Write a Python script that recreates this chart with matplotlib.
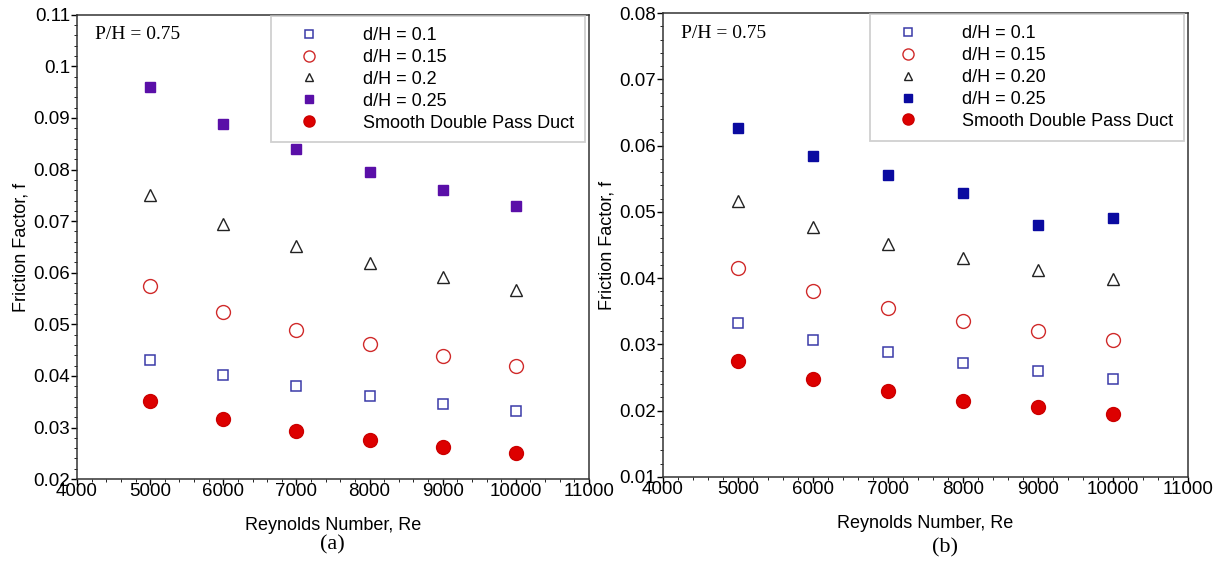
import numpy as np
import matplotlib.pyplot as plt
from matplotlib.ticker import MultipleLocator, AutoMinorLocator

plt.rcParams["font.family"] = ["Liberation Sans", "DejaVu Sans"]

re_vals = [5000, 6000, 7000, 8000, 9000, 10000]

# panel (a)
a_dh010 = [0.0430, 0.0401, 0.0380, 0.0361, 0.0346, 0.0332]
a_dh015 = [0.0575, 0.0524, 0.0489, 0.0461, 0.0439, 0.0420]
a_dh020 = [0.0751, 0.0695, 0.0652, 0.0619, 0.0591, 0.0567]
a_dh025 = [0.0960, 0.0889, 0.0840, 0.0796, 0.0760, 0.0730]
a_smooth = [0.0352, 0.0317, 0.0293, 0.0276, 0.0262, 0.0251]

# panel (b)
b_dh010 = [0.0332, 0.0306, 0.0288, 0.0272, 0.0259, 0.0248]
b_dh015 = [0.0415, 0.0380, 0.0355, 0.0335, 0.0320, 0.0307]
b_dh020 = [0.0516, 0.0477, 0.0452, 0.0430, 0.0412, 0.0398]
b_dh025 = [0.0627, 0.0585, 0.0555, 0.0529, 0.0480, 0.0490]
b_smooth = [0.0275, 0.0248, 0.0229, 0.0215, 0.0205, 0.0195]

labels_a = ["d/H = 0.1", "d/H = 0.15", "d/H = 0.2", "d/H = 0.25", "Smooth Double Pass Duct"]
labels_b = ["d/H = 0.1", "d/H = 0.15", "d/H = 0.20", "d/H = 0.25", "Smooth Double Pass Duct"]

fig = plt.figure(figsize=(12.22, 5.69), dpi=100)
ax_a = fig.add_axes([0.063, 0.158, 0.419, 0.816])
ax_b = fig.add_axes([0.5426, 0.162, 0.4294, 0.815])


def draw(ax, series, labels, sq_fill, ylim, ystep):
    d1, d15, d2, d25, sm = series
    ax.plot(re_vals, d1, ls="none", marker="s", ms=7.5, mfc="none", mec="#3a3aa8", mew=1.1, label=labels[0])
    ax.plot(re_vals, d15, ls="none", marker="o", ms=10, mfc="none", mec="#d02a2a", mew=1.0, label=labels[1])
    ax.plot(re_vals, d2, ls="none", marker="^", ms=8, mfc="none", mec="#222222", mew=1.0, label=labels[2])
    ax.plot(re_vals, d25, ls="none", marker="s", ms=7, mfc=sq_fill, mec=sq_fill, label=labels[3])
    ax.plot(re_vals, sm, ls="none", marker="o", ms=10, mfc="#dd0000", mec="#cc0000", label=labels[4])
    ax.set_xlim(4000, 11000)
    ax.set_ylim(*ylim)
    ax.xaxis.set_major_locator(MultipleLocator(1000))
    ax.yaxis.set_major_locator(MultipleLocator(ystep))
    ax.xaxis.set_minor_locator(AutoMinorLocator(5))
    ax.yaxis.set_minor_locator(AutoMinorLocator(5))
    ax.tick_params(which="major", direction="out", length=4, width=1, labelsize=13.5, pad=1)
    ax.tick_params(axis="x", which="major", pad=-1)
    ax.tick_params(which="minor", direction="out", length=2, width=0.6)
    ax.yaxis.set_major_formatter(plt.FuncFormatter(lambda v, p: f"{v:g}"))
    for s in ax.spines.values():
        s.set_linewidth(1.1)
        s.set_color("#333333")
    ax.set_xlabel("Reynolds Number, Re", fontsize=13, labelpad=12)
    ax.set_ylabel("Friction Factor, f", fontsize=13, labelpad=3)
    ax.text(0.035, 0.975, "P/H = 0.75", transform=ax.transAxes, ha="left", va="top",
            fontsize=14, family="Liberation Serif")
    leg = ax.legend(loc="upper right", bbox_to_anchor=(0.993, 0.997), borderaxespad=0,
                    fontsize=13, frameon=True, fancybox=False, borderpad=0.6,
                    handletextpad=1.5, handlelength=3.0, labelspacing=0.27, markerscale=0.8)
    leg.get_frame().set_edgecolor("#c4c4c4")
    leg.get_frame().set_linewidth(1.3)


draw(ax_a, [a_dh010, a_dh015, a_dh020, a_dh025, a_smooth], labels_a, "#5a0fa8", (0.02, 0.11), 0.01)
draw(ax_b, [b_dh010, b_dh015, b_dh020, b_dh025, b_smooth], labels_b, "#0a0aa0", (0.01, 0.08), 0.01)

fig.text(0.272, 0.043, "(a)", ha="center", va="center", fontsize=16, family="Liberation Serif")
fig.text(0.773, 0.037, "(b)", ha="center", va="center", fontsize=16, family="Liberation Serif")

fig.savefig("out.png", dpi=100)
